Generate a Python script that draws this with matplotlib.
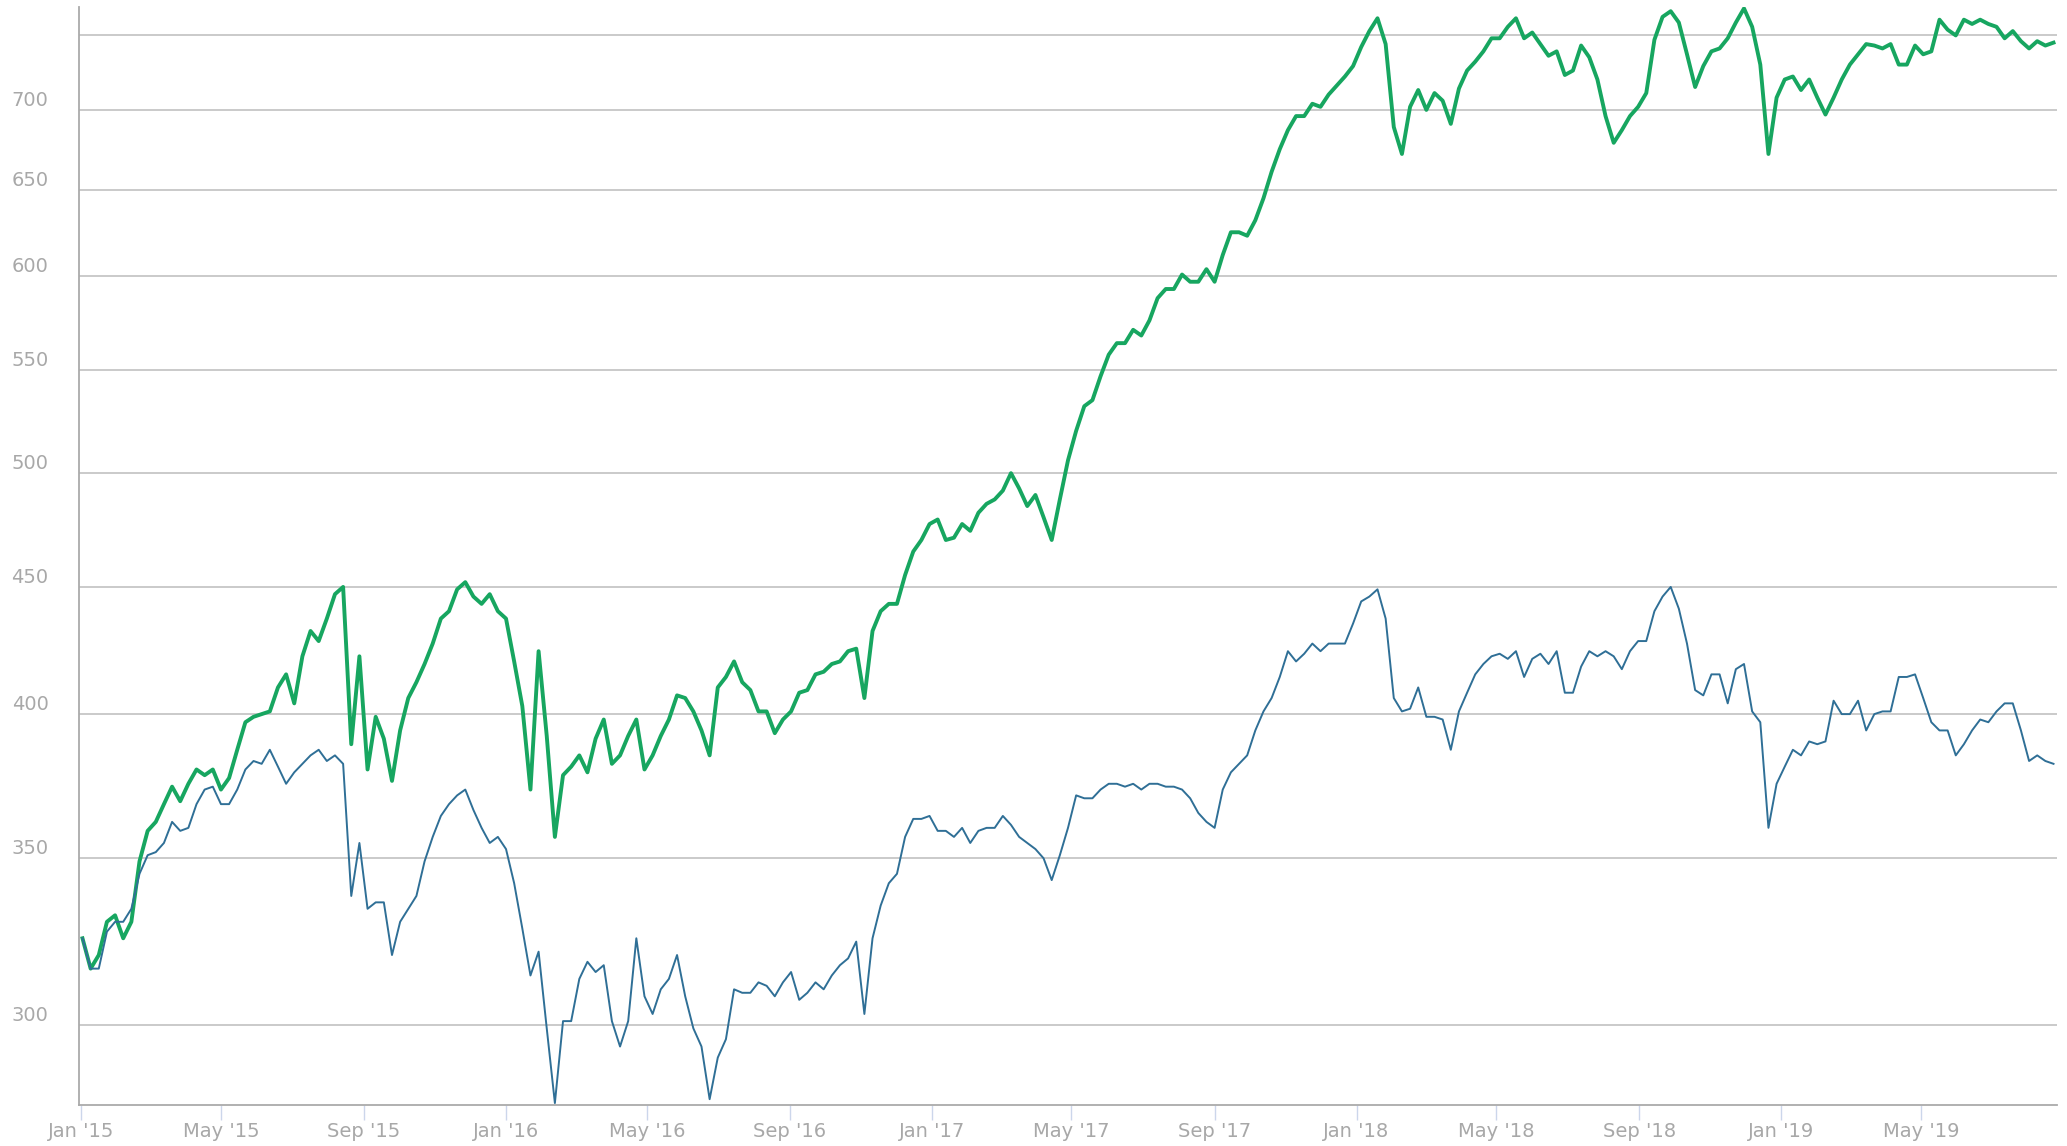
import matplotlib
matplotlib.use("Agg")
import matplotlib.pyplot as plt
import matplotlib.dates as mdates
import matplotlib.transforms as mtransforms
from matplotlib.ticker import NullLocator, FixedLocator, FixedFormatter
import pandas as pd

# ---- data (weekly closes) ----
start_date = "2015-01-02"

green_values = [
    325, 316, 320, 330, 332, 325, 330, 349, 359, 362,
    368, 374, 369, 375, 380, 378, 380, 373, 377, 387,
    397, 399, 400, 401, 410, 415, 404, 422, 432, 428,
    437, 447, 450, 389, 422, 380, 399, 391, 376, 394,
    406, 412, 419, 427, 437, 440, 449, 452, 446, 443,
    447, 440, 437, 420, 403, 373, 424, 392, 357, 378,
    381, 385, 379, 391, 398, 382, 385, 392, 398, 380,
    385, 392, 398, 407, 406, 401, 394, 385, 410, 414,
    420, 412, 409, 401, 401, 393, 398, 401, 408, 409,
    415, 416, 419, 420, 424, 425, 406, 432, 440, 443,
    443, 455, 465, 470, 477, 479, 470, 471, 477, 474,
    482, 486, 488, 492, 500, 493, 485, 490, 480, 470,
    488, 506, 520, 532, 535, 547, 558, 564, 564, 571,
    568, 576, 588, 593, 593, 601, 597, 597, 604, 597,
    612, 625, 625, 623, 632, 645, 661, 675, 687, 696,
    696, 704, 702, 710, 716, 722, 729, 742, 753, 762,
    744, 689, 672, 702, 713, 700, 711, 706, 691, 714,
    726, 732, 739, 748, 748, 756, 762, 748, 752, 744,
    736, 739, 723, 726, 743, 735, 720, 696, 679, 687,
    696, 702, 711, 747, 763, 767, 759, 737, 715, 729,
    739, 741, 748, 759, 769, 756, 730, 672, 708, 720,
    722, 713, 720, 708, 697, 708, 720, 730, 737, 744,
    743, 741, 744, 730, 730, 743, 737, 739, 761, 754,
    750, 761, 758, 761, 758, 756, 748, 753, 746, 741,
    746, 743, 745,
]

blue_values = [
    325, 316, 316, 327, 330, 330, 334, 345, 351, 352,
    355, 362, 359, 360, 368, 373, 374, 368, 368, 373,
    380, 383, 382, 387, 381, 375, 379, 382, 385, 387,
    383, 385, 382, 338, 355, 334, 336, 336, 320, 330,
    334, 338, 349, 357, 364, 368, 371, 373, 366, 360,
    355, 357, 353, 342, 328, 314, 321, 299, 279, 301,
    301, 313, 318, 315, 317, 301, 294, 301, 325, 308,
    303, 310, 313, 320, 308, 299, 294, 280, 291, 296,
    310, 309, 309, 312, 311, 308, 312, 315, 307, 309,
    312, 310, 314, 317, 319, 324, 303, 325, 335, 342,
    345, 357, 363, 363, 364, 359, 359, 357, 360, 355,
    359, 360, 360, 364, 361, 357, 355, 353, 350, 343,
    351, 360, 371, 370, 370, 373, 375, 375, 374, 375,
    373, 375, 375, 374, 374, 373, 370, 365, 362, 360,
    373, 379, 382, 385, 394, 401, 406, 414, 424, 420,
    423, 427, 424, 427, 427, 427, 435, 444, 446, 449,
    437, 406, 401, 402, 410, 399, 399, 398, 387, 401,
    408, 415, 419, 422, 423, 421, 424, 414, 421, 423,
    419, 424, 408, 408, 418, 424, 422, 424, 422, 417,
    424, 428, 428, 440, 446, 450, 441, 427, 409, 407,
    415, 415, 404, 417, 419, 401, 397, 360, 375, 381,
    387, 385, 390, 389, 390, 405, 400, 400, 405, 394,
    400, 401, 401, 414, 414, 415, 406, 397, 394, 394,
    385, 389, 394, 398, 397, 401, 404, 404, 394, 383,
    385, 383, 382,
]

y_ticks = [300, 350, 400, 450, 500, 550, 600, 650, 700, 750]
y_tick_labels = ["300", "350", "400", "450", "500", "550", "600", "650", "700", ""]

green_dates = pd.date_range(start_date, periods=len(green_values), freq="W-FRI")
blue_dates = pd.date_range(start_date, periods=len(blue_values), freq="W-FRI")

# ---- figure ----
W, H, DPI = 2067, 1146, 100
fig = plt.figure(figsize=(W / DPI, H / DPI), dpi=DPI)
fig.patch.set_facecolor("white")
ax = fig.add_axes([79 / W, 41 / H, (2057 - 79) / W, (1105 - 7) / H])

ax.plot(green_dates, green_values, color="#17a660", lw=2.8, solid_joinstyle="round", zorder=3)
ax.plot(blue_dates, blue_values, color="#2f6f96", lw=1.4, solid_joinstyle="round", zorder=4)

ax.set_yscale("log")
ax.set_ylim(278.5, 770)
ax.set_xlim(pd.Timestamp("2014-12-30"), pd.Timestamp("2019-08-26"))

ax.yaxis.set_major_locator(FixedLocator(y_ticks))
ax.yaxis.set_major_formatter(FixedFormatter(y_tick_labels))
ax.yaxis.set_minor_locator(NullLocator())
ax.grid(axis="y", color="#bcbcbc", lw=1.1, zorder=1)
ax.grid(axis="x", visible=False)

ax.xaxis.set_major_locator(mdates.MonthLocator(bymonth=[1, 5, 9]))
ax.xaxis.set_major_formatter(mdates.DateFormatter("%b '%y"))
ax.xaxis.set_minor_locator(NullLocator())

for s in ["top", "right"]:
    ax.spines[s].set_visible(False)
for s in ["left", "bottom"]:
    ax.spines[s].set_color("#aaaaaa")
    ax.spines[s].set_linewidth(1.3)

ax.tick_params(axis="x", colors="#ccd6eb", length=10.5, width=1.0, pad=1.5,
               labelsize=14, labelcolor="#a8a8a8")
ax.tick_params(axis="y", length=0, pad=22, labelsize=14, labelcolor="#a8a8a8")

offset = mtransforms.ScaledTranslation(0, 11.5 / DPI, fig.dpi_scale_trans)
for lab in ax.get_yticklabels():
    lab.set_transform(lab.get_transform() + offset)

fig.savefig("out.png", dpi=DPI, facecolor="white")
